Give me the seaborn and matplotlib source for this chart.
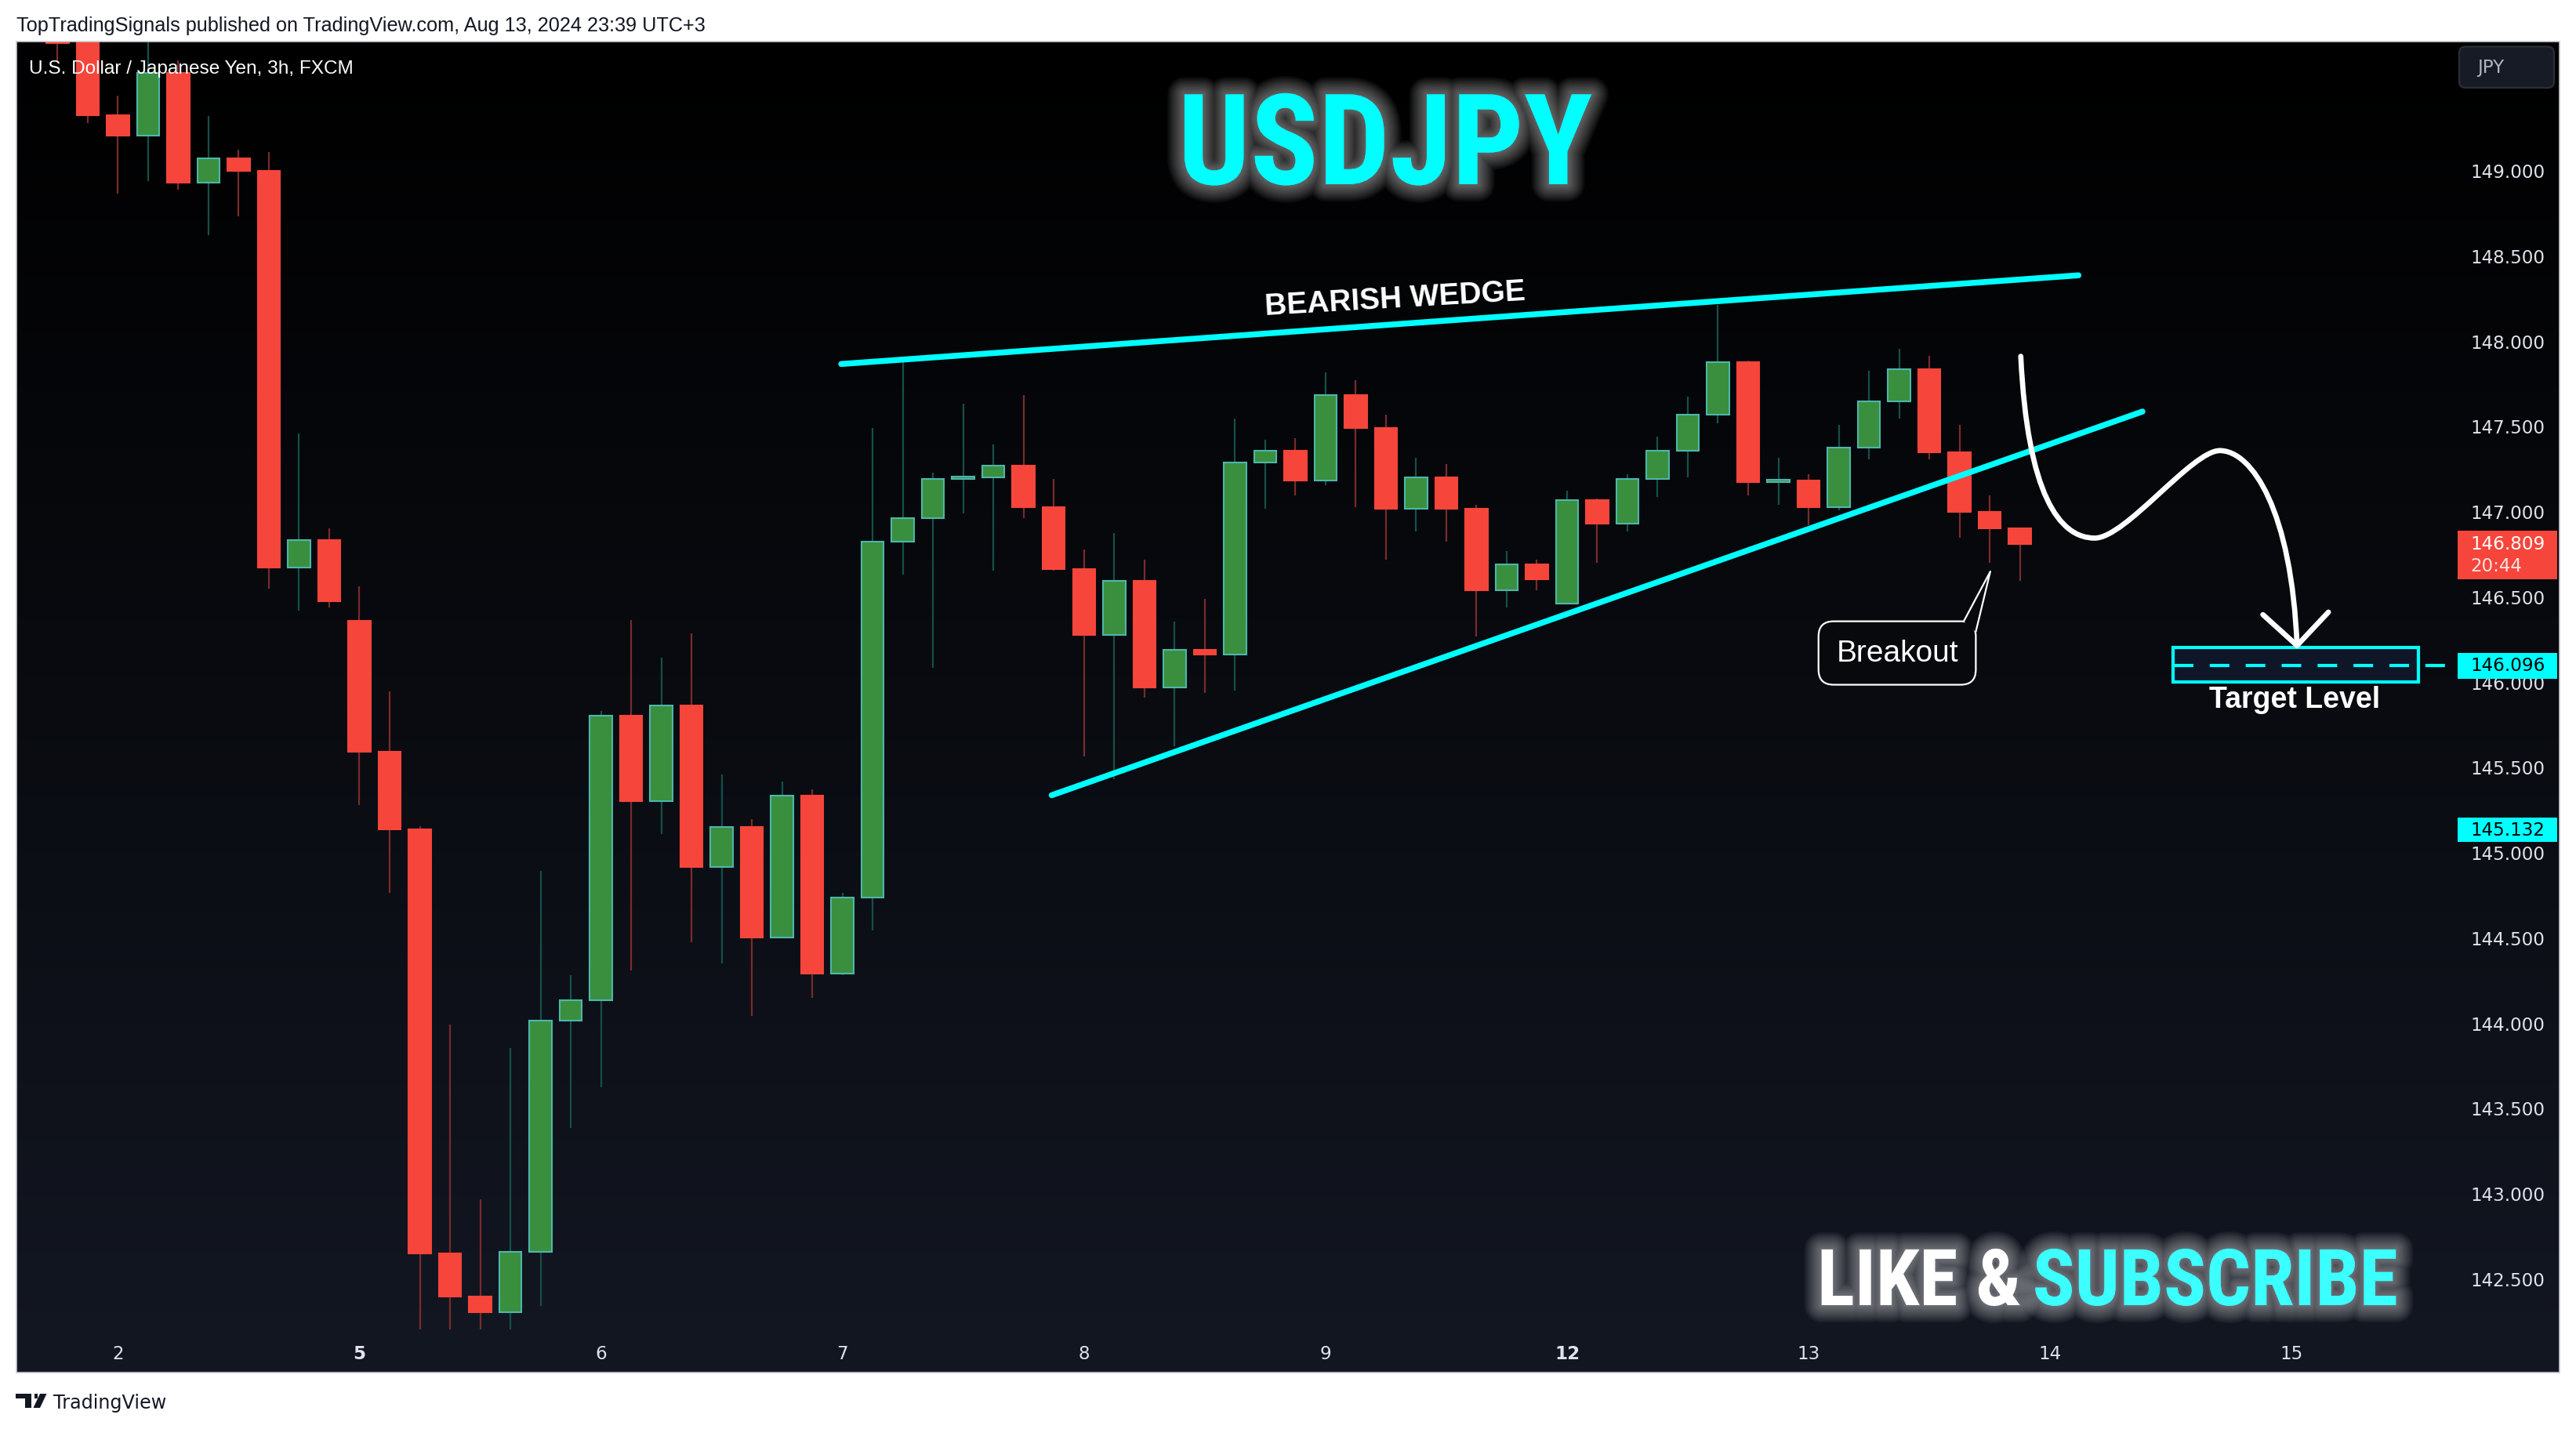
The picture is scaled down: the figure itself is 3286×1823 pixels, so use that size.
import numpy as np
import pandas as pd
import matplotlib
matplotlib.use("Agg")
import matplotlib.pyplot as plt
import matplotlib.patheffects as pe
import matplotlib.transforms as mtransforms
from matplotlib import font_manager as fm
from matplotlib.colors import LinearSegmentedColormap
from matplotlib.patches import Rectangle, FancyBboxPatch, Polygon, PathPatch
from matplotlib.path import Path
from matplotlib.textpath import TextPath
import seaborn as sns

# USDJPY 3h candles (FXCM), Aug 1 18:00 -> Aug 13 21:00, UTC+3
opens = [149.90, 149.78, 149.324, 149.204, 149.569, 148.925, 149.067, 148.997,
         146.668, 146.832, 146.358, 145.591, 145.132, 142.645, 142.396, 142.302,
         142.655, 144.011, 144.131, 145.800, 145.301, 145.859, 144.915, 145.146,
         144.501, 145.330, 144.289, 144.732, 146.823, 146.958, 147.189, 147.199,
         147.266, 147.025, 146.659, 146.274, 146.592, 145.965, 146.187, 146.158,
         147.285, 147.353, 147.179, 147.680, 147.487, 147.015, 147.198, 147.015,
         146.534, 146.688, 146.457, 147.064, 146.929, 147.189, 147.353, 147.565,
         147.873, 147.170, 147.180, 147.025, 147.372, 147.642, 147.834, 147.343,
         146.996, 146.900]
highs = [149.95, 149.85, 149.438, 149.80, 149.642, 149.318, 149.119, 149.104,
         147.455, 146.897, 146.558, 145.945, 145.152, 143.991, 142.964, 143.852,
         144.888, 144.279, 145.830, 146.360, 146.139, 146.283, 145.455, 145.195,
         145.416, 145.368, 144.761, 147.487, 147.892, 147.227, 147.632, 147.391,
         147.680, 147.189, 146.775, 146.871, 146.717, 146.351, 146.486, 147.545,
         147.420, 147.430, 147.815, 147.767, 147.565, 147.314, 147.276, 147.035,
         146.765, 146.717, 147.121, 147.073, 147.218, 147.439, 147.671, 148.210,
         147.882, 147.314, 147.218, 147.507, 147.825, 147.950, 147.911, 147.507,
         147.092, 146.900]
lows = [149.638, 149.276, 148.860, 148.937, 148.886, 148.620, 148.727, 146.547,
        146.418, 146.433, 145.277, 144.763, 141.70, 142.05, 142.10, 142.12,
        142.341, 143.383, 143.622, 144.308, 145.108, 144.472, 144.347, 144.039,
        144.501, 144.145, 144.279, 144.540, 146.630, 146.081, 146.987, 146.649,
        146.958, 146.650, 145.561, 145.426, 145.908, 145.619, 145.936, 145.946,
        147.015, 147.092, 147.150, 147.025, 146.717, 146.881, 146.823, 146.264,
        146.437, 146.534, 146.457, 146.697, 146.881, 147.083, 147.198, 147.516,
        147.092, 147.035, 146.919, 147.006, 147.304, 147.545, 147.304, 146.842,
        146.697, 146.592]
closes = [149.747, 149.322, 149.204, 149.572, 148.925, 149.067, 148.997, 146.668,
          146.832, 146.473, 145.591, 145.132, 142.645, 142.396, 142.302, 142.655,
          144.011, 144.131, 145.800, 145.301, 145.859, 144.915, 145.146, 144.501,
          145.330, 144.289, 144.732, 146.823, 146.958, 147.189, 147.199, 147.266,
          147.025, 146.659, 146.274, 146.592, 145.965, 146.187, 146.158, 147.285,
          147.353, 147.179, 147.680, 147.487, 147.015, 147.198, 147.015, 146.534,
          146.688, 146.601, 147.064, 146.929, 147.189, 147.353, 147.565, 147.873,
          147.170, 147.180, 147.025, 147.372, 147.642, 147.834, 147.343, 146.996,
          146.900, 146.809]

# time axis (bar index of each day start)
day_ticks = [2, 10, 18, 26, 34, 42, 50, 58, 66, 74]
day_labels = ['2', '5', '6', '7', '8', '9', '12', '13', '14', '15']
bold_days = ['5', '12']
price_ticks = [142.5, 143.0, 143.5, 144.0, 144.5, 145.0, 145.5,
               146.0, 146.5, 147.0, 147.5, 148.0, 148.5, 149.0]

# drawings
upper_x = [25.96, 66.94]
upper_y = [147.863, 148.383]
lower_x = [32.93, 69.06]
lower_y = [145.334, 147.584]
arrow_x = [65.03, 65.25, 66.3, 67.48, 68.5, 70.7, 71.62, 72.7, 74.0, 74.18]
arrow_y = [147.908, 147.1, 146.842, 146.842, 146.842, 147.355, 147.355, 147.355, 147.0, 146.212]
head_x = [73.05, 74.18, 75.22]
head_y = [146.393, 146.212, 146.408]
target_price = 146.096
last_price = 146.809
ref_price = 145.132

# colours
CYAN = '#00FFFF'
RED = '#F6453B'
RED_WICK = '#7A2B2B'
GREEN = '#3A8F3E'
GREEN_EDGE = '#4DB6AC'
GREEN_WICK = '#14504A'

sns.set_theme(style="dark")
plt.rcParams['font.family'] = ['DejaVu Sans']

W, H = 3286, 1824
DPI = 200
fig = plt.figure(figsize=(W / DPI, H / DPI), dpi=DPI, facecolor='white')


def fx(x):
    return x / W


def fy(y):
    return 1 - y / H


# chart background gradient (black at top -> navy at bottom)
bg = fig.add_axes([fx(21), fy(1752), fx(3265 - 21), (1752 - 54) / H], zorder=-5)
cmap = LinearSegmentedColormap.from_list('tvbg', ['#000000', '#131722'])
bg.imshow(np.linspace(0, 1, 256).reshape(-1, 1), aspect='auto', cmap=cmap,
          extent=[0, 1, 0, 1])
bg.set_axis_off()

ax = fig.add_axes([fx(21), fy(1697), fx(3120 - 21), (1697 - 54) / H])
ax.set_facecolor('none')
ax.grid(False)
for s in ax.spines.values():
    s.set_visible(False)

df = pd.DataFrame({'open': opens, 'high': highs, 'low': lows, 'close': closes})
df['bar'] = np.arange(len(df))
up = df['close'] >= df['open']
dn = ~up

# wicks
ax.vlines(df.loc[up, 'bar'], df.loc[up, 'low'], df.loc[up, 'high'],
          color=GREEN_WICK, lw=0.8, zorder=2)
ax.vlines(df.loc[dn, 'bar'], df.loc[dn, 'low'], df.loc[dn, 'high'],
          color=RED_WICK, lw=0.8, zorder=2)

# bodies
body_up = np.maximum(df.loc[up, 'close'] - df.loc[up, 'open'], 0.012)
body_dn = np.maximum(df.loc[dn, 'open'] - df.loc[dn, 'close'], 0.012)
ax.bar(df.loc[up, 'bar'], body_up, bottom=df.loc[up, 'open'], width=0.74,
       color=GREEN, edgecolor=GREEN_EDGE, linewidth=0.75, zorder=3)
ax.bar(df.loc[dn, 'bar'], body_dn, bottom=df.loc[dn, 'close'], width=0.74,
       color=RED, edgecolor=RED, linewidth=0.75, zorder=3)

# wedge lines
sns.lineplot(x=upper_x, y=upper_y, ax=ax, color=CYAN, linewidth=2.7,
             solid_capstyle='round', zorder=4)
sns.lineplot(x=lower_x, y=lower_y, ax=ax, color=CYAN, linewidth=2.7,
             solid_capstyle='round', zorder=4)

ax.text(44.3, 148.242, 'BEARISH WEDGE', rotation=3.3, rotation_mode='anchor',
        ha='center', va='center', fontsize=14, fontweight='bold', color='white',
        family=['Liberation Sans', 'DejaVu Sans'], zorder=6)

# hand drawn projection arrow
codes = [Path.MOVETO] + [Path.CURVE4] * 9
arrow_path = Path(np.column_stack([arrow_x, arrow_y]), codes)
ax.add_patch(PathPatch(arrow_path, fill=False, edgecolor='white', lw=2.4,
                       capstyle='round', zorder=6))
ax.plot(head_x, head_y, color='white', lw=2.4, solid_capstyle='round',
        solid_joinstyle='round', zorder=6)

# target zone
ax.add_patch(Rectangle((70.08, 145.998), 8.13, 0.201, facecolor='#0E1628',
                       edgecolor=CYAN, lw=1.5, zorder=5))
ax.plot([70.1, 79.6], [target_price, target_price], color=CYAN, lw=1.5,
        dashes=(6, 5), clip_on=False, zorder=6)
ax.text(74.1, 145.898, 'Target Level', ha='center', va='center', fontsize=13.5,
        fontweight='bold', color='white', family=['Liberation Sans', 'DejaVu Sans'],
        zorder=6)

# breakout callout
aspect = (3099 / 80.47) / (1643 / 7.553)
box_fc = '#07090D'
ax.add_patch(FancyBboxPatch((58.33, 145.982), 5.21, 0.372,
                            boxstyle='round,pad=0,rounding_size=0.5',
                            mutation_aspect=aspect, facecolor=box_fc,
                            edgecolor='white', lw=0.8, zorder=6))
ax.add_patch(Polygon([(63.14, 146.354), (64.02, 146.646), (63.54, 146.293)],
                     closed=True, facecolor=box_fc, edgecolor='none', zorder=6.5))
ax.plot([63.14, 64.02, 63.54], [146.354, 146.646, 146.293], color='white', lw=0.8,
        zorder=6.6)
ax.text(60.95, 146.168, 'Breakout', ha='center', va='center', fontsize=14,
        color='white', family=['Liberation Sans', 'DejaVu Sans'], zorder=7)

ax.set_xlim(-1.36, 79.11)
ax.set_ylim(142.201, 149.754)

# axes ticks
ax.yaxis.tick_right()
ax.set_yticks(price_ticks)
ax.set_yticklabels([f'{p:.3f}' for p in price_ticks])
ax.tick_params(axis='y', length=0, pad=11.2, labelsize=8.3, labelcolor='#E0E3EB')
ax.set_xticks(day_ticks)
ax.set_xticklabels(day_labels)
ax.tick_params(axis='x', length=0, pad=7, labelsize=8.3, labelcolor='#E0E3EB')
for lab in ax.get_xticklabels():
    if lab.get_text() in bold_days:
        lab.set_fontweight('bold')
ax.set_xlabel('')
ax.set_ylabel('')

# price scale labels
trans = mtransforms.blended_transform_factory(ax.transAxes, ax.transData)
x0_lab, w_lab, x_txt = 1.0048, 0.0410, 1.0100
ax.add_patch(Rectangle((x0_lab, 146.600), w_lab, 0.285, transform=trans,
                       facecolor=RED, edgecolor='none', clip_on=False, zorder=8))
ax.text(x_txt, last_price, f'{last_price:.3f}', transform=trans, va='center',
        ha='left', fontsize=8.3, color='white', zorder=9, clip_on=False)
ax.text(x_txt, 146.680, '20:44', transform=trans, va='center', ha='left',
        fontsize=8.3, color='#FBE3E1', zorder=9, clip_on=False)
ax.add_patch(Rectangle((x0_lab, 146.016), w_lab, 0.152, transform=trans,
                       facecolor=CYAN, edgecolor='none', clip_on=False, zorder=8))
ax.text(x_txt, target_price, f'{target_price:.3f}', transform=trans, va='center',
        ha='left', fontsize=8.3, color='black', zorder=9, clip_on=False)
ax.add_patch(Rectangle((x0_lab, 145.060), w_lab, 0.145, transform=trans,
                       facecolor=CYAN, edgecolor='none', clip_on=False, zorder=8))
ax.text(x_txt, ref_price, f'{ref_price:.3f}', transform=trans, va='center',
        ha='left', fontsize=8.3, color='black', zorder=9, clip_on=False)

# currency button
fig.add_artist(FancyBboxPatch((fx(3137), fy(113)), fx(121), 52.5 / H,
                              boxstyle=f'round,pad=0,rounding_size={8 / W}',
                              mutation_aspect=W / H, facecolor='#171B26',
                              edgecolor='#2A2E39', lw=0.8, transform=fig.transFigure))
fig.text(fx(3160), fy(87), 'JPY', ha='left', va='center', fontsize=8.3,
         color='#B2B5BE')

# chart frame
fig.add_artist(Rectangle((fx(21), fy(1752)), fx(3265 - 21), (1752 - 54) / H,
                         fill=False, edgecolor='#C9CBD1', lw=0.6,
                         transform=fig.transFigure))

# header / symbol / footer texts
fig.text(fx(21), fy(40), 'TopTradingSignals published on TradingView.com, '
         'Aug 13, 2024 23:39 UTC+3', ha='left', va='baseline', fontsize=9.1,
         color='#131722', family=['Liberation Sans', 'DejaVu Sans'])
fig.text(fx(37), fy(94), 'U.S. Dollar / Japanese Yen, 3h, FXCM', ha='left',
         va='baseline', fontsize=8.8, color='white',
         family=['Liberation Sans', 'DejaVu Sans'])
fig.text(fx(68), fy(1797), 'TradingView', ha='left', va='baseline', fontsize=8.6,
         color='#131722', family=['DejaVu Sans'])
# TradingView logo
fig.add_artist(Rectangle((fx(20), fy(1785)), fx(20), 6 / H, facecolor='#131722',
                         edgecolor='none', transform=fig.transFigure))
fig.add_artist(Rectangle((fx(32), fy(1797)), fx(8), 18 / H, facecolor='#131722',
                         edgecolor='none', transform=fig.transFigure))
fig.add_artist(Polygon([(fx(44), fy(1779)), (fx(48), fy(1779)), (fx(48), fy(1785)),
                        (fx(44), fy(1785))], closed=True, facecolor='#131722',
                       edgecolor='none', transform=fig.transFigure))
fig.add_artist(Polygon([(fx(51), fy(1779)), (fx(59.5), fy(1779)), (fx(51), fy(1797)),
                        (fx(42.5), fy(1797))], closed=True, facecolor='#131722',
                       edgecolor='none', transform=fig.transFigure))

# glowing headline texts: pick the narrowest bold sans available
names = {f.name for f in fm.fontManager.ttflist}
head_family = 'Liberation Sans'
head_stretch = 'normal'
for cand in ['Liberation Sans Narrow', 'DejaVu Sans Condensed', 'Roboto Condensed', 'Roboto']:
    if cand in names:
        head_family = cand
        break
else:
    if any(f.name == 'DejaVu Sans' and f.stretch == 'condensed' for f in fm.fontManager.ttflist):
        head_family, head_stretch = 'DejaVu Sans', 'condensed'
head_prop = fm.FontProperties(family=head_family, weight='bold', stretch=head_stretch)

glow = [pe.Stroke(linewidth=w, foreground='white', alpha=0.04)
        for w in np.linspace(16, 1.5, 12)] + [pe.Normal()]
renderer = fig.canvas.get_renderer()


def fitted_size(text, width_px, cap_px, base=40):
    t = fig.text(0, 0, text, fontproperties=head_prop, fontsize=base)
    w = t.get_window_extent(renderer).width
    t.remove()
    size_w = base * width_px / w
    cap = TextPath((0, 0), 'H', size=base, prop=head_prop).get_extents().height * DPI / 72
    size_h = base * cap_px / cap
    return np.sqrt(size_w * size_h)


size_title = fitted_size('USDJPY', 2029 - 1506, 116)
fig.text(fx(1767), fy(236), 'USDJPY', ha='center', va='baseline', fontsize=size_title,
         fontproperties=head_prop, color=CYAN, path_effects=glow)

size_like = fitted_size('LIKE & SUBSCRIBE', 3059 - 2318, 72)
fig.text(fx(2318), fy(1666), 'LIKE &', ha='left', va='baseline', fontsize=size_like,
         fontproperties=head_prop, color='white', path_effects=glow)
fig.text(fx(3059), fy(1666), 'SUBSCRIBE', ha='right', va='baseline',
         fontsize=size_like, fontproperties=head_prop, color='#3CFFFF',
         path_effects=glow)

fig.savefig('out.png', dpi=DPI, facecolor='white')
